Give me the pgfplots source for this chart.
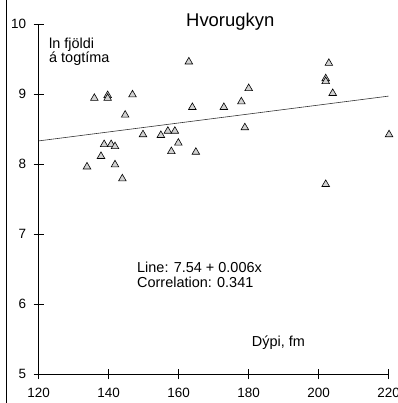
\documentclass[border=0pt]{standalone}
\usepackage{pgfplots}
\pgfplotsset{compat=1.18}
\usepackage{fontspec}
\setmainfont{Liberation Sans}
\begin{document}
\begin{tikzpicture}[x=1bp,y=1bp]
\useasboundingbox (0,0) rectangle (398,403);
\fill[white] (0,0) rectangle (398,403);
\draw[line width=0.8bp] (6,0) -- (6,403);
\begin{axis}[
  at={(38.7bp,29bp)}, anchor=south west,
  scale only axis, width=350bp, height=350bp,
  xmin=120, xmax=220, ymin=5, ymax=10,
  axis lines=left, axis line style={-, line width=1bp},
  xtick={120,140,...,220}, ytick={5,6,...,10},
  tick align=center, major tick length=10bp,
  tick style={line width=0.9bp, black},
  every tick label/.append style={font=\fontsize{13.5}{15}\selectfont},
  xticklabel style={yshift=-6bp},
  yticklabel style={xshift=-4bp},
  /pgf/number format/assume math mode=true,
  clip=false,
]
\addplot[only marks, mark=triangle*, mark size=4.4bp,
  mark options={fill=gray!35, draw=black, line width=0.6bp}] coordinates {
(135.9,8.94) (139.7,8.98) (139.7,8.94) (146.8,8.99) (144.7,8.70)
(149.8,8.42) (154.9,8.41) (156.9,8.47) (158.9,8.47) (159.9,8.30)
(157.9,8.18) (164.9,8.17) (162.9,9.46) (163.9,8.81) (138.7,8.28)
(140.7,8.28) (141.8,8.25) (137.8,8.11) (133.8,7.96) (141.8,7.99)
(143.9,7.79) (202.9,9.44) (202.0,9.22) (202.0,9.18) (204.0,9.01)
(180.0,9.08) (177.9,8.89) (172.9,8.81) (178.9,8.52) (220.1,8.42)
(202.0,7.71)
};
\addplot[line width=0.6bp, black!80] coordinates {(120,8.33) (220,8.97)};
\end{axis}
\node[anchor=base west, inner sep=0, font=\fontsize{18.5}{22}\selectfont] at (186,376.3) {Hvorugkyn};
\node[anchor=base west, inner sep=0, font=\fontsize{14.5}{17}\selectfont] at (49,355) {ln fjöldi};
\node[anchor=base west, inner sep=0, font=\fontsize{14.5}{17}\selectfont] at (49,340.5) {á togtíma};
\node[anchor=base west, inner sep=0, font=\fontsize{14.5}{17}\selectfont] at (137,131) {Line: 7.54 + 0.006x};
\node[anchor=base west, inner sep=0, font=\fontsize{14.5}{17}\selectfont] at (137,115.5) {Correlation: 0.341};
\node[anchor=base west, inner sep=0, font=\fontsize{14.5}{17}\selectfont] at (251.7,57) {Dýpi, fm};
\end{tikzpicture}
\end{document}
